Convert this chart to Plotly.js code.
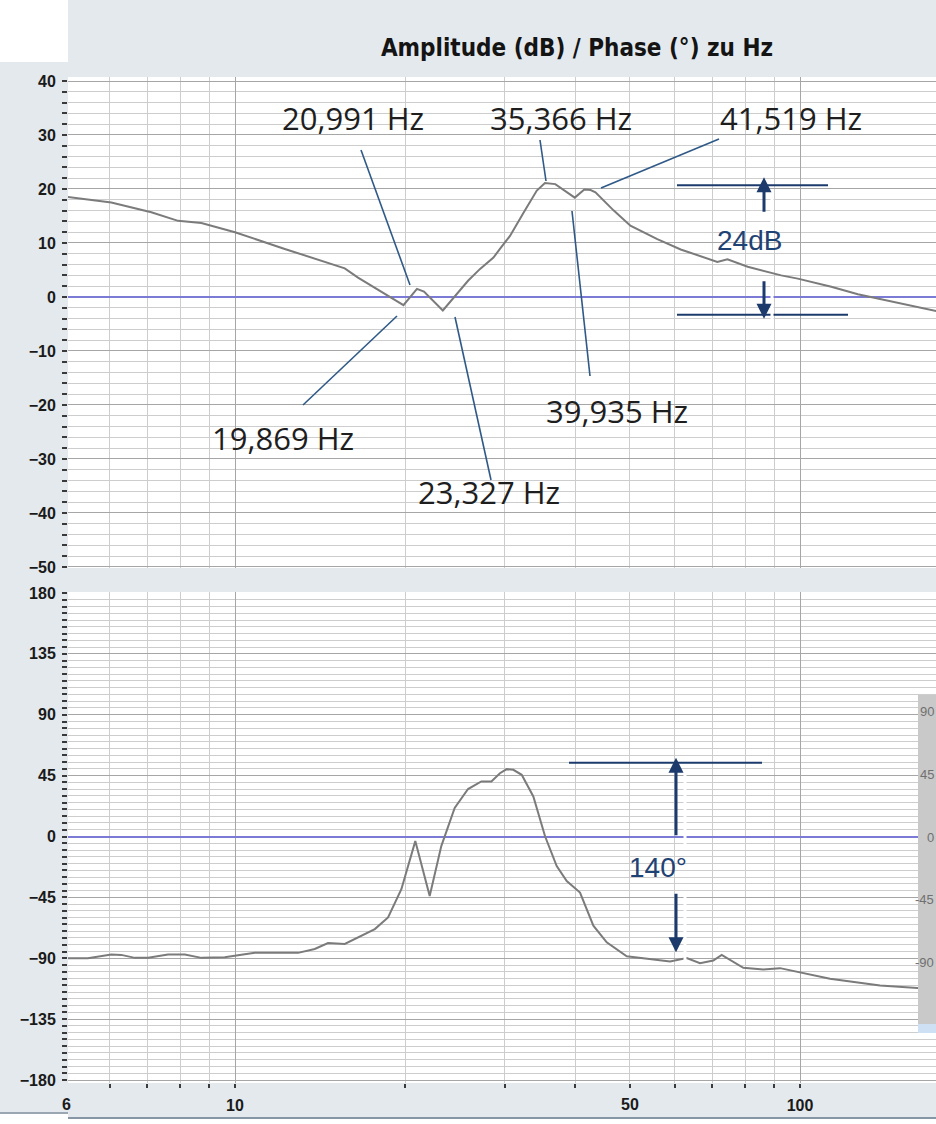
<!DOCTYPE html>
<html>
<head>
<meta charset="utf-8">
<script src="https://cdn.plot.ly/plotly-3.0.1.min.js"></script>
<style>
  html, body { margin: 0; padding: 0; background: #ffffff; }
  #chart { width: 936px; height: 1124px; }
</style>
</head>
<body>
<div id="chart"></div>
<script>
// Amplitude response of the axis, frequency in Hz, level in dB
const ampFreq = [5.06, 6.04, 7.11, 7.93, 8.72, 10.0, 12.25, 15.64, 16.51, 19.869, 20.991, 21.6, 23.327,
  25.85, 27.15, 28.67, 29.44, 30.67, 32.41, 34.21, 35.366, 36.89, 39.935, 41.519, 42.6, 43.45, 46.82,
  50.1, 55.9, 61.5, 71.4, 74.4, 80.8, 92.6, 99.1, 113.6, 126.6, 149.1, 174.4];
const ampDb = [18.5, 17.5, 15.7, 14.1, 13.7, 12.0, 8.9, 5.3, 3.6, -1.5, 1.5, 1.0, -2.5,
  3.0, 5.2, 7.3, 8.9, 11.3, 15.6, 19.7, 21.1, 20.9, 18.4, 19.9, 19.8, 19.4, 16.0,
  13.2, 10.7, 8.8, 6.5, 7.0, 5.6, 4.0, 3.4, 1.9, 0.5, -1.1, -2.6];

// Phase response, frequency in Hz, phase in degrees
const phFreq = [5.06, 5.49, 6.04, 6.29, 6.65, 7.02, 7.61, 8.15, 8.72, 9.59,
  10.84, 12.93, 13.84, 14.61, 15.64, 16.51, 17.68, 18.66, 19.70, 20.85,
  22.11, 23.18, 24.48, 25.85, 27.29, 28.43, 29.44, 30.27, 31.09, 32.17,
  33.73, 35.38, 37.10, 38.65, 40.80, 43.08, 45.49, 49.35, 53.54, 58.88,
  63.02, 66.53, 70.23, 72.68, 79.37, 86.10, 92.18, 113.0, 138.6, 160.9, 174.4];
const phDeg = [-89.9, -89.9, -87.3, -87.5, -89.7, -89.7, -87.3, -87.3, -89.7, -89.2,
  -86.0, -86.0, -83.1, -78.7, -79.4, -74.5, -68.4, -59.8, -39.0, -3.4,
  -43.9, -7.1, 21.1, 35.1, 40.7, 40.7, 46.8, 49.8, 49.3, 45.6,
  29.6, 0.2, -21.8, -32.9, -41.4, -65.9, -78.2, -88.5, -90.4, -92.4,
  -89.9, -93.6, -91.7, -87.5, -97.1, -98.3, -97.3, -105.1, -110.1, -112.0, -113.0];

// Marked resonance / anti-resonance frequencies (Hz)
const markerFreq = [20.991, 35.366, 41.519, 19.869, 23.327, 39.935];

// Dimensioned spans
const ampSpan = 24;      // dB
const ampTop = 20.7;     // dB, upper reference line
const phSpan = 140;      // degrees
const phTop = 54.5;      // degrees, upper reference line

// Axis ticks: decades carry the darker grid, the rest a light one
const xDecadeVals = [10, 100];
const xDecadeText = ['10', '100'];
const xMinorVals = [6, 7, 8, 9, 20, 30, 40, 50, 60, 70, 80, 90];
const xExtraLabels = [50];
const insetTicks = [90, 45, 0, -45, -90];

// ---- page geometry helpers (pixel -> paper fraction) ----
const W = 936, H = 1124, L = 68, R = 0, T = 77, B = 41;
const PW = W - L - R, PH = H - T - B;
const px = v => (v - L) / PW;
const py = v => (H - B - v) / PH;

const curveColor = '#7b7b7b';
const navy = '#1c3b6c';
const leader = '#2f5987';
const zeroColor = '#7b7bd6';
const gridMinor = '#cdcdcd';
const gridMajor = '#a6a6a6';
const bg = '#e3e9ed';

const tickFont = { family: 'Liberation Sans, Arial, sans-serif', size: 16, color: '#1a1a1a', weight: 'bold' };
const labelFont = { family: 'Open Sans, Noto Sans, sans-serif', size: 31, color: '#1e1e1e' };
const dimFont = { family: 'Liberation Sans, Arial, sans-serif', size: 28, color: '#1f4274' };

const fmtHz = f => f.toFixed(3).replace('.', ',') + ' Hz';

const traces = [
  { x: ampFreq, y: ampDb, xaxis: 'x2', yaxis: 'y', type: 'scatter', mode: 'lines',
    line: { color: curveColor, width: 2 }, hoverinfo: 'skip' },
  { x: phFreq, y: phDeg, xaxis: 'x', yaxis: 'y2', type: 'scatter', mode: 'lines',
    line: { color: curveColor, width: 2 }, hoverinfo: 'skip' }
];

const xRange = [0.70442, 2.24071];

const xBase = {
  type: 'log', range: xRange, fixedrange: true,
  tickmode: 'array', tickvals: xDecadeVals, ticktext: xDecadeText,
  showgrid: true, gridcolor: gridMajor, gridwidth: 1,
  zeroline: false, showline: false,
  minor: { tickmode: 'array', tickvals: xMinorVals, showgrid: true, gridcolor: gridMinor, gridwidth: 1 }
};

const layout = {
  width: W, height: H,
  margin: { l: L, r: R, t: T, b: B, pad: 0 },
  paper_bgcolor: bg, plot_bgcolor: '#ffffff',
  showlegend: false,
  title: {
    text: 'Amplitude (dB) / Phase (°) zu Hz',
    xref: 'container', yref: 'container',
    x: 577 / W, xanchor: 'center', y: 1 - 48 / H, yanchor: 'middle',
    font: { family: 'DejaVu Sans Condensed, Liberation Sans Narrow, sans-serif', size: 24, weight: 'bold', color: '#141414' }
  },
  xaxis: Object.assign({}, xBase, {
    anchor: 'y2',
    ticks: 'outside', ticklen: 4, tickwidth: 2, tickcolor: '#3a3a3a',
    tickfont: tickFont, ticklabelstandoff: 4,
    minor: Object.assign({}, xBase.minor, { ticks: 'outside', ticklen: 4, tickwidth: 2, tickcolor: '#3a3a3a' })
  }),
  xaxis2: Object.assign({}, xBase, {
    anchor: 'y', matches: 'x', showticklabels: false, ticks: ''
  }),
  yaxis: {
    domain: [py(568), 1], range: [-50.19, 40.74], fixedrange: true,
    tickmode: 'linear', tick0: 0, dtick: 10,
    ticks: 'outside', ticklen: 5, tickwidth: 2, tickcolor: '#3a3a3a',
    tickfont: tickFont, ticklabelstandoff: 3,
    showgrid: true, gridcolor: gridMajor, gridwidth: 1,
    minor: { dtick: 2, ticks: 'outside', ticklen: 5, tickwidth: 2, tickcolor: '#3a3a3a', showgrid: true, gridcolor: gridMinor, gridwidth: 1 },
    zeroline: true, zerolinecolor: zeroColor, zerolinewidth: 2, showline: false
  },
  yaxis2: {
    domain: [0, py(592)], range: [-182.2, 180.74], fixedrange: true,
    tickmode: 'linear', tick0: 0, dtick: 45,
    ticks: 'outside', ticklen: 5, tickwidth: 2, tickcolor: '#3a3a3a',
    tickfont: tickFont, ticklabelstandoff: 3,
    showgrid: true, gridcolor: gridMajor, gridwidth: 1,
    minor: { dtick: 5, ticks: 'outside', ticklen: 5, tickwidth: 2, tickcolor: '#3a3a3a', showgrid: true, gridcolor: gridMinor, gridwidth: 1 },
    zeroline: true, zerolinecolor: zeroColor, zerolinewidth: 2, showline: false
  },
  shapes: [],
  annotations: []
};

const S = layout.shapes, A = layout.annotations;

// window frame: white corner and bottom edge
S.push({ type: 'rect', layer: 'above', xref: 'paper', yref: 'paper', x0: px(-2), x1: px(L), y0: py(-2), y1: py(62), fillcolor: '#ffffff', line: { width: 0 } });
S.push({ type: 'rect', layer: 'above', xref: 'paper', yref: 'paper', x0: px(-2), x1: px(L), y0: py(1114), y1: py(H + 2), fillcolor: '#ffffff', line: { width: 0 } });
S.push({ type: 'rect', layer: 'above', xref: 'paper', yref: 'paper', x0: px(L), x1: px(W + 2), y0: py(1119), y1: py(H + 2), fillcolor: '#ffffff', line: { width: 0 } });
S.push({ type: 'line', layer: 'above', xref: 'paper', yref: 'paper', x0: px(-2), x1: px(L), y0: py(1113), y1: py(1113), line: { color: '#9aa7b3', width: 2 } });
S.push({ type: 'line', layer: 'above', xref: 'paper', yref: 'paper', x0: px(L), x1: px(W + 2), y0: py(1118), y1: py(1118), line: { color: '#8796a5', width: 2 } });

// leader lines from the frequency labels to the curve
const leaders = [
  [361, 150, 410, 285],
  [540, 140, 546, 181],
  [719, 139, 601, 188],
  [303, 405, 397, 316],
  [491, 480, 455, 317],
  [590, 376, 572, 211]
];
const labelPos = [[353, 118], [561, 118], [791, 118], [283, 438], [489, 492], [617, 411]];
leaders.forEach(l => {
  S.push({ type: 'line', layer: 'above', xref: 'paper', yref: 'paper',
    x0: px(l[0]), y0: py(l[1]), x1: px(l[2]), y1: py(l[3]), line: { color: leader, width: 1.6 } });
});
markerFreq.forEach((f, i) => {
  A.push({ xref: 'paper', yref: 'paper', x: px(labelPos[i][0]), y: py(labelPos[i][1]),
    xanchor: 'center', yanchor: 'middle', text: fmtHz(f), showarrow: false, font: labelFont });
});

// amplitude span dimension
S.push({ type: 'line', layer: 'above', xref: 'paper', yref: 'y', x0: px(677), x1: px(828), y0: ampTop, y1: ampTop, line: { color: navy, width: 2 } });
S.push({ type: 'line', layer: 'above', xref: 'paper', yref: 'y', x0: px(677), x1: px(848), y0: ampTop - ampSpan, y1: ampTop - ampSpan, line: { color: navy, width: 2 } });
S.push({ type: 'line', layer: 'above', xref: 'paper', yref: 'paper', x0: px(772), x1: px(772), y0: py(193), y1: py(222), line: { color: '#ffffff', width: 3 } });
S.push({ type: 'line', layer: 'above', xref: 'paper', yref: 'paper', x0: px(772), x1: px(772), y0: py(282), y1: py(327), line: { color: '#ffffff', width: 3 } });
A.push({ xref: 'paper', yref: 'y', x: px(764), y: ampTop, yshift: 8, ax: 0, ay: 36, axref: 'pixel', ayref: 'pixel',
  text: '', showarrow: true, arrowhead: 2, arrowsize: 1, arrowwidth: 3, arrowcolor: navy });
A.push({ xref: 'paper', yref: 'y', x: px(764), y: ampTop - ampSpan, yshift: -4, ax: 0, ay: -39, axref: 'pixel', ayref: 'pixel',
  text: '', showarrow: true, arrowhead: 2, arrowsize: 1, arrowwidth: 3, arrowcolor: navy });
A.push({ xref: 'paper', yref: 'paper', x: px(749), y: py(241), xanchor: 'center', yanchor: 'middle',
  text: ampSpan + 'dB', showarrow: false, font: dimFont });

// phase span dimension
S.push({ type: 'line', layer: 'above', xref: 'paper', yref: 'y2', x0: px(569), x1: px(762), y0: phTop, y1: phTop, line: { color: navy, width: 2 } });
S.push({ type: 'line', layer: 'above', xref: 'paper', yref: 'paper', x0: px(685), x1: px(685), y0: py(771), y1: py(847), line: { color: '#ffffff', width: 3 } });
S.push({ type: 'line', layer: 'above', xref: 'paper', yref: 'paper', x0: px(685), x1: px(685), y0: py(893), y1: py(960), line: { color: '#ffffff', width: 3 } });
A.push({ xref: 'paper', yref: 'y2', x: px(676), y: phTop, yshift: 5, ax: 0, ay: 79, axref: 'pixel', ayref: 'pixel',
  text: '', showarrow: true, arrowhead: 2, arrowsize: 1, arrowwidth: 3, arrowcolor: navy });
A.push({ xref: 'paper', yref: 'y2', x: px(676), y: phTop - phSpan, ax: 0, ay: -60, axref: 'pixel', ayref: 'pixel',
  text: '', showarrow: true, arrowhead: 2, arrowsize: 1, arrowwidth: 3, arrowcolor: navy });
A.push({ xref: 'paper', yref: 'paper', x: px(658), y: py(867), xanchor: 'center', yanchor: 'middle',
  text: phSpan + '°', showarrow: false, font: dimFont });

// overlapping side panel of a second phase plot
S.push({ type: 'rect', layer: 'above', xref: 'paper', yref: 'paper', x0: px(918), x1: px(W + 2), y0: py(695), y1: py(1024), fillcolor: '#c9c9c9', line: { width: 0 } });
S.push({ type: 'rect', layer: 'above', xref: 'paper', yref: 'paper', x0: px(918), x1: px(W + 2), y0: py(1024), y1: py(1033), fillcolor: '#cde0f4', line: { width: 0 } });
insetTicks.forEach(v => {
  A.push({ xref: 'paper', yref: 'paper', x: px(936), y: py(837 - 1.395 * v), xanchor: 'right', yanchor: 'middle',
    text: String(v), showarrow: false, font: { family: 'Liberation Sans Narrow, Liberation Sans, Arial, sans-serif', size: 13, color: '#707070' } });
});

// labels of the frequency axis outside the decades
xExtraLabels.forEach(f => {
  A.push({ xref: 'x', yref: 'paper', x: Math.log10(f), y: py(1104), xanchor: 'center', yanchor: 'middle',
    text: String(f), showarrow: false, font: tickFont });
});
A.push({ xref: 'paper', yref: 'paper', x: px(60), y: py(1104), xanchor: 'left', yanchor: 'middle',
  text: '6', showarrow: false, font: tickFont });

Plotly.newPlot('chart', traces, layout, { staticPlot: true, displayModeBar: false });
</script>
</body>
</html>
